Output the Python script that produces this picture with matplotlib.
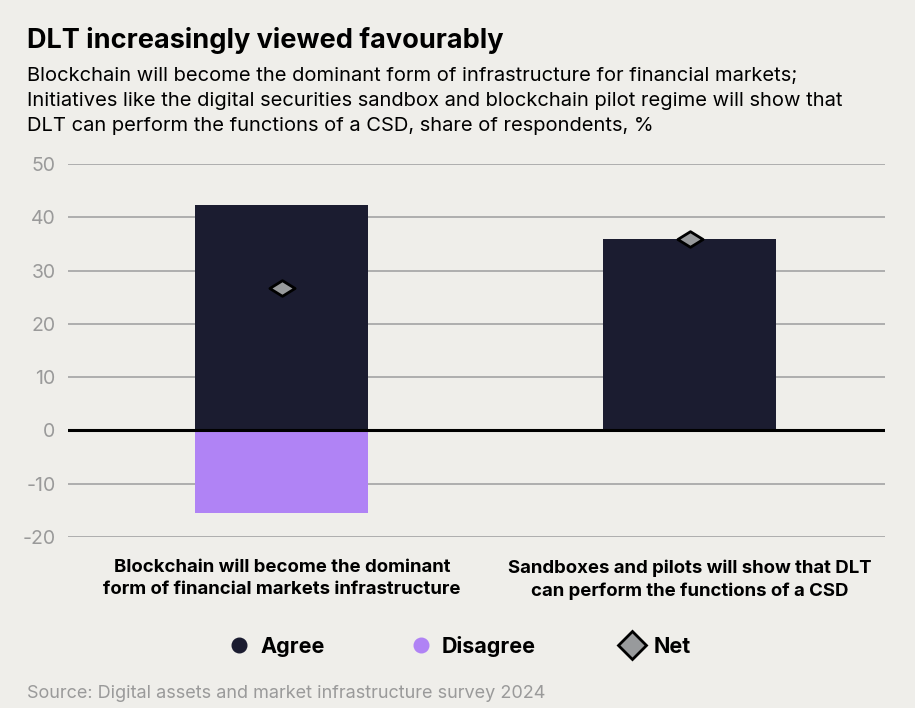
import numpy as np
import matplotlib.pyplot as plt
from matplotlib.lines import Line2D
from matplotlib.path import Path

plt.rcParams['font.family'] = ['Inter', 'DejaVu Sans']
plt.rcParams['axes.unicode_minus'] = False

# data
categories = ["Blockchain will become the dominant\nform of financial markets infrastructure",
              "Sandboxes and pilots will show that DLT\ncan perform the functions of a CSD"]
agree = [42.2, 36.0]
disagree = [-15.5, 0.0]
net = [26.8, 36.0]
yticks = [-20, -10, 0, 10, 20, 30, 40, 50]

bg = "#efeeea"
c_agree = "#1b1c30"
c_dis = "#b083f5"
c_net = "#989a9c"
grey = "#9a9a9a"

fig = plt.figure(figsize=(9.15, 7.08), dpi=100, facecolor=bg)
ax = fig.add_axes([0.0743, 0.2415, 0.8927, 0.527])
ax.set_facecolor(bg)

x = np.arange(len(categories))
ax.bar(x, agree, width=0.424, color=c_agree, zorder=2)
ax.bar(x, disagree, width=0.424, color=c_dis, zorder=2)

# flattened diamond for the net marker
flat_diamond = Path([(-1, 0), (0, 0.62), (1, 0), (0, -0.62), (-1, 0)],
                    [Path.MOVETO, Path.LINETO, Path.LINETO, Path.LINETO, Path.CLOSEPOLY])
ax.scatter(x, net, marker=flat_diamond, s=330, color=c_net, edgecolor="black",
           linewidth=2, zorder=4)

ax.set_xlim(-0.524, 1.478)
ax.set_ylim(-20, 50)
ax.set_yticks(yticks)
ax.grid(axis="y", color="#a9a9a9", linewidth=1.3, zorder=0)
ax.axhline(0, color="black", linewidth=2.2, zorder=3)
for s in ax.spines.values():
    s.set_visible(False)
ax.tick_params(axis="y", length=0, pad=9, labelsize=14, labelcolor=grey)
ax.tick_params(axis="x", length=0, pad=16)
ax.set_xticks(x)
ax.set_xticklabels(categories, fontsize=13.4, fontweight="bold", linespacing=1.4)

# titles
fig.text(0.029, 0.943, "DLT increasingly viewed favourably", fontsize=19.5,
         fontweight="bold", va="center")
fig.text(0.029, 0.905,
         "Blockchain will become the dominant form of infrastructure for financial markets;\n"
         "Initiatives like the digital securities sandbox and blockchain pilot regime will show that\n"
         "DLT can perform the functions of a CSD, share of respondents, %",
         fontsize=14.5, va="top", linespacing=1.5)

# legend
handles = [
    Line2D([], [], marker="o", linestyle="none", markersize=10.5, color=c_agree),
    Line2D([], [], marker="o", linestyle="none", markersize=10.5, color=c_dis),
    Line2D([], [], marker="D", linestyle="none", markersize=14, markerfacecolor=c_net,
           markeredgecolor="black", markeredgewidth=2),
]
leg = fig.legend(handles, ["Agree", "Disagree", "Net"], loc="center",
                 bbox_to_anchor=(0.502, 0.087), ncol=3, frameon=False,
                 prop={"weight": "bold", "size": 15.5}, handlelength=1,
                 handletextpad=0.5, columnspacing=3.95)

fig.text(0.029, 0.021, "Source: Digital assets and market infrastructure survey 2024",
         fontsize=13, color=grey, va="center")

fig.savefig("out.png", dpi=100, facecolor=bg)
